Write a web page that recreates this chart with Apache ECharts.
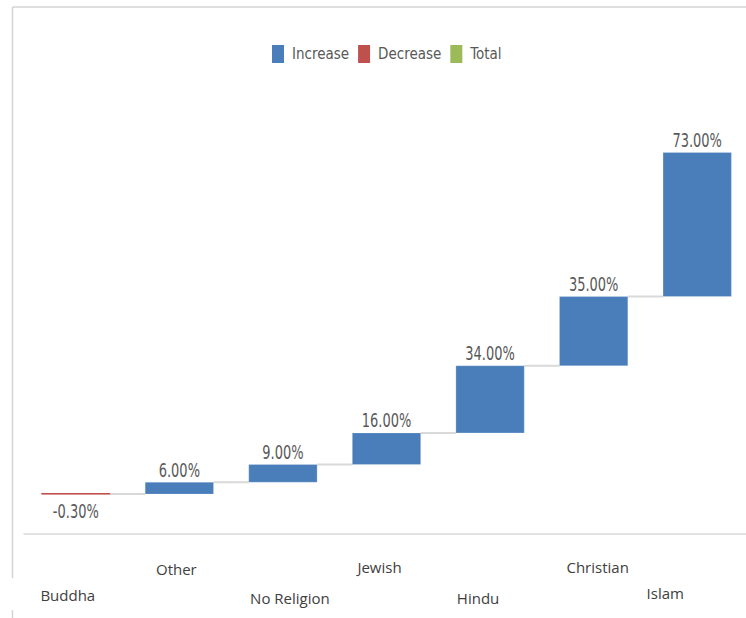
<!DOCTYPE html>
<html>
<head>
<meta charset="utf-8">
<script src="https://cdn.jsdelivr.net/npm/echarts@6/dist/echarts.min.js"></script>
<style>html,body{margin:0;padding:0;background:#fff;}#c{width:746px;height:618px;}</style>
</head>
<body>
<div id="c"></div>
<script>
const categories = ['Buddha', 'Other', 'No Religion', 'Jewish', 'Hindu', 'Christian', 'Islam'];
const changes = [-0.30, 6.00, 9.00, 16.00, 34.00, 35.00, 73.00];
const legendNames = ['Increase', 'Decrease', 'Total'];

const COLORS = { Increase: '#4a7ebb', Decrease: '#c0504d', Total: '#9bbb59' };
const NARROW = '"DejaVu Sans Condensed", "DejaVu Sans", sans-serif';

// waterfall steps
const incData = [], decData = [], connData = [];
let run = 0;
changes.forEach((v, i) => {
  const start = run, end = run + v;
  (v >= 0 ? incData : decData).push([i, start, end, v]);
  run = end;
  if (i < changes.length - 1) connData.push([i, end]);
});

// per-label offsets to mimic the staggered category labels
const labelPad = [
  [51, 16, 0, 0], [25, 6, 0, 0], [54, 0, 0, 14], [23, 14, 0, 0],
  [54, 24, 0, 0], [23, 0, 0, 8], [49, 64, 0, 0]
];

function barRender(params, api) {
  const i = api.value(0), s = api.value(1), e = api.value(2), v = api.value(3);
  const p1 = api.coord([i, s]), p2 = api.coord([i, e]);
  const w = api.size([1, 0])[0] * 0.66;
  const top = Math.min(p1[1], p2[1]), h = Math.abs(p1[1] - p2[1]);
  const color = api.visual('color');
  const neg = v < 0;
  return {
    type: 'group',
    children: [
      { type: 'rect', shape: { x: p1[0] - w / 2, y: top, width: w, height: h },
        style: { fill: color, stroke: neg ? color : 'rgba(255,255,255,0.35)', lineWidth: neg ? 1 : 0.6 } },
      { type: 'text', x: p1[0], y: neg ? top + h + 8 : top - 3, scaleX: 0.76,
        style: {
          text: v.toFixed(2) + '%', x: 0, y: 0,
          align: 'center', verticalAlign: neg ? 'top' : 'bottom',
          fill: '#595959', font: '19px ' + NARROW } }
    ]
  };
}

const chart = echarts.init(document.getElementById('c'), null, { renderer: 'svg' });
chart.setOption({
  animation: false,
  backgroundColor: '#fff',
  graphic: [
    { type: 'line', shape: { x1: 12.5, y1: 7, x2: 746, y2: 7 }, style: { stroke: '#d4d4d4', lineWidth: 1.5 } },
    { type: 'line', shape: { x1: 12.5, y1: 7, x2: 12.5, y2: 578 }, style: { stroke: '#d4d4d4', lineWidth: 1.5 } },
    { type: 'line', shape: { x1: 12.5, y1: 610, x2: 12.5, y2: 618 }, style: { stroke: '#d4d4d4', lineWidth: 1.5 } }
  ],
  legend: {
    data: legendNames, left: 272, top: 45, padding: 0, icon: 'rect',
    itemWidth: 12, itemHeight: 18, itemGap: 9,
    textStyle: { color: '#595959', fontSize: 15, fontFamily: NARROW, padding: [0, 0, 0, 3] }
  },
  grid: { left: 24, width: 725, top: 138, height: 396, outerBoundsMode: 'none', containLabel: false },
  xAxis: {
    type: 'category',
    data: categories.map((c, i) => ({ value: c, textStyle: { padding: labelPad[i] } })),
    axisLine: { show: true, onZero: false, lineStyle: { color: '#d9d9d9', width: 1.5 } },
    axisTick: { show: false },
    axisLabel: { margin: 0, interval: 0, color: '#404040', fontSize: 15, lineHeight: 20,
                 fontFamily: '"Open Sans", sans-serif', verticalAlign: 'middle' },
    splitLine: { show: false }
  },
  yAxis: { type: 'value', min: -20.5, max: 180, show: false, splitLine: { show: false } },
  series: [
    { name: 'Connector', type: 'custom', data: connData, silent: true, z: 1,
      renderItem: (params, api) => {
        const i = api.value(0), lv = api.value(1);
        const w = api.size([1, 0])[0] * 0.66;
        const a = api.coord([i, lv]), b = api.coord([i + 1, lv]);
        return { type: 'line', shape: { x1: a[0] + w / 2, y1: a[1], x2: b[0] - w / 2, y2: b[1] },
                 style: { stroke: '#d9d9d9', lineWidth: 2 } };
      } },
    { name: 'Increase', type: 'custom', data: incData, itemStyle: { color: COLORS.Increase }, renderItem: barRender, z: 2 },
    { name: 'Decrease', type: 'custom', data: decData, itemStyle: { color: COLORS.Decrease }, renderItem: barRender, z: 2 },
    { name: 'Total', type: 'custom', data: [], itemStyle: { color: COLORS.Total }, renderItem: barRender }
  ]
});
</script>
</body>
</html>
